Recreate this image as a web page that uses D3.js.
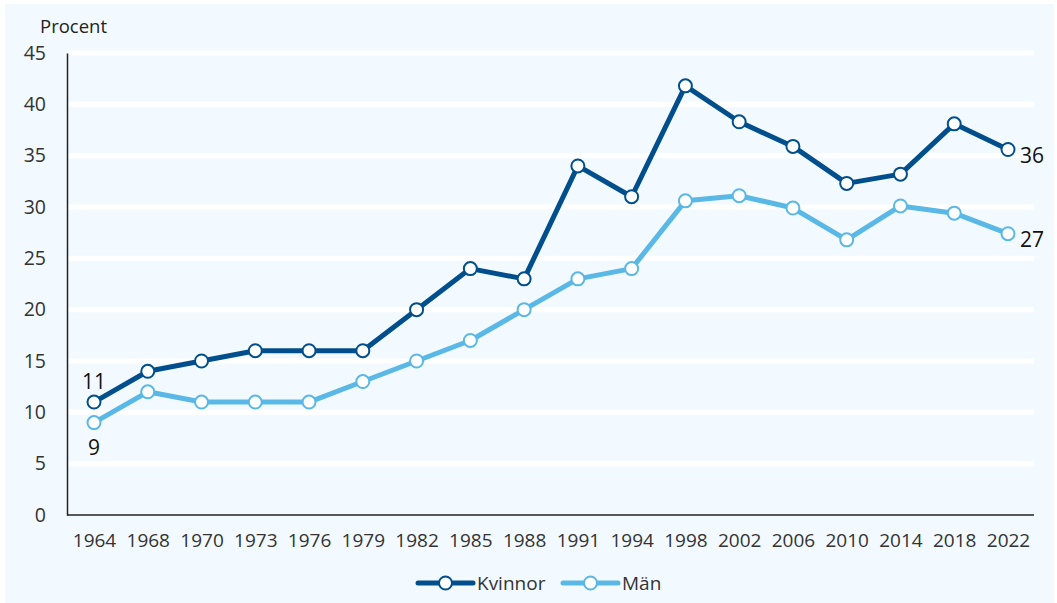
<!DOCTYPE html>
<html><head><meta charset="utf-8">
<script src="https://cdn.jsdelivr.net/npm/d3@7"></script>
<style>body{margin:0;background:#fff;}svg{display:block;font-family:"Open Sans",sans-serif;}</style>
</head><body><svg id="c" width="1057" height="603"></svg>
<script>
const years = ["1964","1968","1970","1973","1976","1979","1982","1985","1988","1991","1994","1998","2002","2006","2010","2014","2018","2022"];
const kvinnor = [11,14,15,16,16,16,20,24,23,34,31,41.8,38.3,35.9,32.3,33.2,38.1,35.6];
const man = [9,12,11,11,11,13,15,17,20,23,24,30.6,31.1,29.9,26.8,30.1,29.4,27.4];
const yTicks = [0,5,10,15,20,25,30,35,40,45];
const seriesNames = ["Kvinnor","Män"];
const colors = ["#004f8c","#5ab8e6"];

const svg = d3.select("#c");
svg.append("rect").attr("x",5).attr("y",4).attr("width",1049).attr("height",599).attr("fill","#f2faff");

const x = d3.scalePoint().domain(years).range([94,1008]);
const y = d3.scaleLinear().domain([0,45]).range([515,53]);
const L = 67, R = 1034;

svg.append("g").selectAll("line").data(yTicks.filter(d=>d>0)).join("line")
  .attr("x1",L).attr("x2",R).attr("y1",d=>y(d)).attr("y2",d=>y(d))
  .attr("stroke","#fff").attr("stroke-width",5);

const ya = svg.append("g").attr("transform",`translate(${L},0)`)
  .call(d3.axisLeft(y).tickValues(yTicks).tickSize(0).tickPadding(21));
ya.select(".domain").attr("stroke","#222").attr("stroke-width",1.5);
ya.selectAll("text").attr("font-size",19.5).attr("fill","#333").attr("font-family","Open Sans");

const xa = svg.append("g").attr("transform",`translate(0,515)`)
  .call(d3.axisBottom(x).tickSize(0).tickPadding(19));
xa.select(".domain").remove();
svg.append("line").attr("x1",L).attr("x2",R).attr("y1",515).attr("y2",515).attr("stroke","#222").attr("stroke-width",1.5);
xa.selectAll("text").attr("font-size",19).attr("fill","#333").attr("font-family","Open Sans");

svg.append("text").attr("x",40).attr("y",33).attr("font-size",18.5).attr("fill","#222").text("Procent");

const line = d3.line().x((d,i)=>x(years[i])).y(d=>y(d));
[kvinnor,man].forEach((s,k)=>{
  svg.append("path").datum(s).attr("d",line).attr("fill","none")
    .attr("stroke",colors[k]).attr("stroke-width",5).attr("stroke-linejoin","round");
});
[kvinnor,man].forEach((s,k)=>{
  svg.append("g").selectAll("circle").data(s).join("circle")
    .attr("cx",(d,i)=>x(years[i])).attr("cy",d=>y(d)).attr("r",6.5)
    .attr("fill","#fff").attr("stroke",colors[k]).attr("stroke-width",2);
});

const lab = (t,xx,yy,anchor)=>svg.append("text").attr("x",xx).attr("y",yy).attr("text-anchor",anchor)
  .attr("font-size",21).attr("fill","#111").text(t);
lab(Math.round(kvinnor[0]), x(years[0]), y(kvinnor[0])-13, "middle");
lab(Math.round(man[0]), x(years[0]), y(man[0])+32, "middle");
lab(Math.round(kvinnor[17]), x(years[17])+12, y(kvinnor[17])+13, "start");
lab(Math.round(man[17]), x(years[17])+12, y(man[17])+13, "start");

// legend
const lg = svg.append("g");
const items = [{x0:418, tx:477}, {x0:563, tx:622}];
items.forEach((it,k)=>{
  lg.append("line").attr("x1",it.x0).attr("x2",it.x0+55).attr("y1",583).attr("y2",583)
    .attr("stroke",colors[k]).attr("stroke-width",5).attr("stroke-linecap","round");
  lg.append("circle").attr("cx",it.x0+27.5).attr("cy",583).attr("r",6.5)
    .attr("fill","#fff").attr("stroke",colors[k]).attr("stroke-width",2);
  lg.append("text").attr("x",it.tx).attr("y",590).attr("font-size",19).attr("fill","#333").text(seriesNames[k]);
});
</script></body></html>
